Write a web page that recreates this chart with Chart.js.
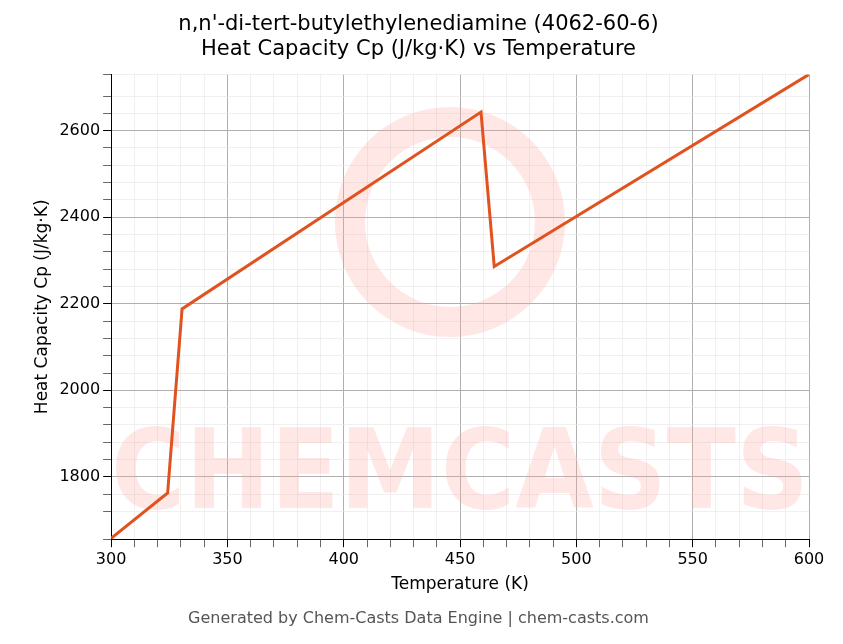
<!DOCTYPE html>
<html>
<head>
<meta charset="utf-8">
<script src="https://cdn.jsdelivr.net/npm/chart.js@4/dist/chart.umd.min.js"></script>
<style>
  body { margin: 0; background: #fff; }
  canvas { display: block; }
</style>
</head>
<body>
<canvas id="chart" width="843" height="644"></canvas>
<script>
const temperatures = [300, 324.3, 330.5, 459, 464.7, 600];
const heatCapacity = [1658, 1763, 2188, 2643, 2286, 2730];

const watermark = {
    id: 'watermark',
    beforeDatasetsDraw(chart) {
        const { ctx, chartArea: a } = chart;
        ctx.save();
        ctx.fillStyle = 'rgba(250,160,150,0.25)';
        ctx.font = 'bold 110px "DejaVu Sans"';
        ctx.textAlign = 'center';
        ctx.textBaseline = 'middle';
        ctx.fillText('CHEMCASTS', (a.left + a.right) / 2, a.bottom - 60, a.right - a.left);
        ctx.strokeStyle = 'rgba(250,160,150,0.25)';
        ctx.lineWidth = 30;
        ctx.beginPath();
        ctx.arc(450, 222, 100, 0, Math.PI * 2);
        ctx.stroke();
        ctx.restore();
    }
};

new Chart(document.getElementById('chart').getContext('2d'), {
    type: 'line',
    data: {
        datasets: [{
            data: temperatures.map((t, i) => ({ x: t, y: heatCapacity[i] })),
            borderColor: '#e0531f',
            borderWidth: 3,
            pointRadius: 0,
            tension: 0
        }]
    },
    options: {
        responsive: false,
        devicePixelRatio: 1,
        animation: false,
        layout: { padding: { left: 28, right: 34, top: 0, bottom: 10 } },
        plugins: {
            legend: { display: false },
            tooltip: { enabled: false },
            title: {
                display: true,
                text: ["n,n'-di-tert-butylethylenediamine (4062-60-6)", 'Heat Capacity Cp (J/kg·K) vs Temperature'],
                color: '#000',
                font: { size: 21, family: 'DejaVu Sans', weight: 'normal', lineHeight: 1.2 },
                padding: { top: 12, bottom: 12 }
            },
            subtitle: {
                display: true,
                position: 'bottom',
                text: 'Generated by Chem-Casts Data Engine | chem-casts.com',
                color: '#555',
                font: { size: 16, family: 'DejaVu Sans' },
                padding: { top: 10, bottom: 6 }
            }
        },
        scales: {
            x: {
                type: 'linear',
                min: 300,
                max: 600,
                border: { color: '#000', width: 1 },
                ticks: {
                    stepSize: 10,
                    autoSkip: false,
                    maxRotation: 0,
                    color: '#000',
                    font: { size: 16, family: 'DejaVu Sans' },
                    callback: v => (v % 50 === 0 ? v : '')
                },
                grid: {
                    color: c => (c.tick.value % 50 === 0 ? '#b0b0b0' : '#e6e6e6'),
                    lineWidth: c => (c.tick.value % 50 === 0 ? 1 : 0.6),
                    tickColor: '#000'
                },
                title: { display: true, text: 'Temperature (K)', color: '#000', font: { size: 17, family: 'DejaVu Sans' }, padding: { top: 2 } }
            },
            y: {
                min: 1656,
                max: 2730,
                border: { color: '#000', width: 1 },
                ticks: {
                    stepSize: 40,
                    autoSkip: false,
                    color: '#000',
                    font: { size: 16, family: 'DejaVu Sans' },
                    callback: v => (v % 200 === 0 ? v : '')
                },
                grid: {
                    color: c => (c.tick.value % 200 === 0 ? '#b0b0b0' : '#e6e6e6'),
                    lineWidth: c => (c.tick.value % 200 === 0 ? 1 : 0.6),
                    tickColor: '#000'
                },
                title: { display: true, text: 'Heat Capacity Cp (J/kg·K)', color: '#000', font: { size: 17, family: 'DejaVu Sans' } }
            }
        }
    },
    plugins: [watermark]
});
</script>
</body>
</html>
